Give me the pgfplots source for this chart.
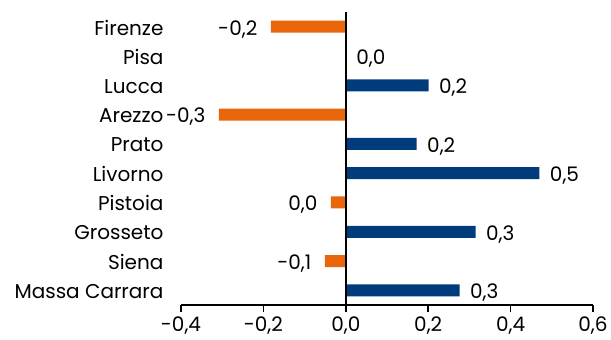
\documentclass[border=0pt]{standalone}
\usepackage{pgfplots}
\pgfplotsset{compat=1.18}
\usepackage{fontspec}
\setmainfont{Poppins}
\definecolor{barblue}{HTML}{003B7C}
\definecolor{barorange}{HTML}{E8650A}
\begin{document}
\begin{tikzpicture}
\begin{axis}[
  scale only axis, width=412pt, height=293pt,
  xbar, bar width=12pt,
  xmin=-0.4, xmax=0.6, ymin=-0.5, ymax=9.5, y dir=reverse,
  xtick={-0.4,-0.2,0,0.2,0.4,0.6},
  ytick={0,1,2,3,4,5,6,7,8,9},
  yticklabels={Firenze,Pisa,Lucca,Arezzo,Prato,Livorno,Pistoia,Grosseto,Siena,Massa Carrara},
  axis x line*=bottom, axis y line*=left,
  y axis line style={draw=none}, ytick style={draw=none},
  x axis line style={line width=1.5pt, -},
  xtick style={line width=1.5pt, black},
  tick align=outside, major tick length=7pt,
  ticklabel style={font=\fontsize{20}{22}\selectfont},
  yticklabel style={xshift=-7pt, yshift=-1pt},
  xticklabel style={yshift=-1pt},
  /pgf/number format/.cd, use comma, fixed, fixed zerofill, precision=1, assume math mode=true,
  /pgfplots/.cd,
  nodes near coords, point meta=explicit symbolic,
]
\addplot[fill=barblue, draw=none, bar shift=0pt,
  nodes near coords style={anchor=west, xshift=7pt, yshift=-2.5pt, font=\fontsize{20}{22}\selectfont}]
  coordinates {(0,1)[0,0] (0.201,2)[0,2] (0.172,4)[0,2] (0.47,5)[0,5] (0.315,7)[0,3] (0.276,9)[0,3]};
\addplot[fill=barorange, draw=none, bar shift=0pt,
  nodes near coords style={anchor=east, xshift=-10pt, yshift=-2.5pt, font=\fontsize{20}{22}\selectfont}]
  coordinates {(-0.182,0)[-0,2] (-0.308,3)[-0,3] (-0.036,6)[0,0] (-0.051,8)[-0,1]};
\draw[black, line width=1.5pt] (axis cs:0,-0.5) -- (axis cs:0,9.5);
\end{axis}
\pgfresetboundingbox
\path[use as bounding box] ([shift={(-181pt,-35pt)}]current axis.south west) rectangle ([shift={(18pt,12pt)}]current axis.north east);
\end{tikzpicture}
\end{document}
